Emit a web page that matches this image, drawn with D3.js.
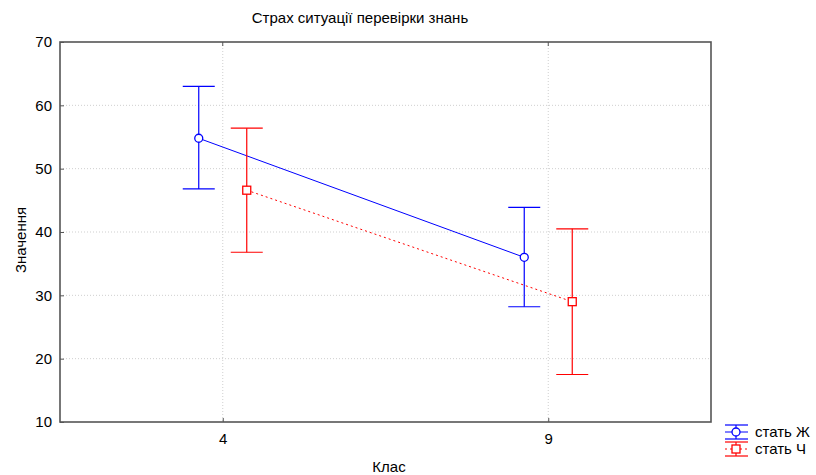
<!DOCTYPE html>
<html>
<head>
<meta charset="utf-8">
<script src="https://cdn.jsdelivr.net/npm/d3@7"></script>
<style>
  body { margin: 0; background: #fff; }
  svg { display: block; font-family: Arial, "Liberation Sans", sans-serif; }
</style>
</head>
<body>
<svg id="chart" width="816" height="475"></svg>
<script>
// Class levels and the y-axis ticks
const categories = ["4", "9"];
const yTicks = [10, 20, 30, 40, 50, 60, 70];

// Means and interval bounds per gender
const seriesNames = ["стать Ж", "стать Ч"];
const meanF = [54.8, 36.0];
const upperF = [63.0, 43.9];
const lowerF = [46.8, 28.2];
const meanM = [46.6, 29.0];
const upperM = [56.4, 40.5];
const lowerM = [36.8, 17.5];

const series = [
  { name: seriesNames[0], mean: meanF, upper: upperF, lower: lowerF, color: "#0000ff", offset: -24, marker: "circle", dash: null },
  { name: seriesNames[1], mean: meanM, upper: upperM, lower: lowerM, color: "#ff0000", offset: 24, marker: "square", dash: "2,3" }
];

const FONT = 15;
const svg = d3.select("#chart");
const m = { left: 60, right: 105, top: 42, bottom: 53 };
const W = 816, H = 475;

const x = d3.scalePoint().domain(categories).range([m.left, W - m.right]).padding(0.5);
const y = d3.scaleLinear().domain([10, 70]).range([H - m.bottom, m.top]);

// Grid
const grid = svg.append("g");
grid.selectAll("line.h").data(yTicks.slice(1, -1)).join("line")
  .attr("x1", m.left).attr("x2", W - m.right)
  .attr("y1", d => y(d)).attr("y2", d => y(d))
  .attr("stroke", "#cfcfcf").attr("stroke-dasharray", "1,2");
grid.selectAll("line.v").data(categories).join("line")
  .attr("x1", d => x(d)).attr("x2", d => x(d))
  .attr("y1", m.top).attr("y2", H - m.bottom)
  .attr("stroke", "#cfcfcf").attr("stroke-dasharray", "1,2");

// Axes
const yAxis = d3.axisLeft(y).tickValues(yTicks).tickSizeInner(-4).tickSizeOuter(0).tickPadding(8);
const gy = svg.append("g").attr("transform", `translate(${m.left},0)`).call(yAxis);
const xAxis = d3.axisBottom(x).tickSizeInner(-4).tickSizeOuter(0).tickPadding(11);
const gx = svg.append("g").attr("transform", `translate(0,${H - m.bottom})`).call(xAxis);
[gy, gx].forEach(g => {
  g.select(".domain").remove();
  g.selectAll(".tick line").attr("stroke", "#555");
  g.selectAll(".tick text").attr("font-size", FONT).attr("fill", "#000")
    .attr("font-family", "Arial, 'Liberation Sans', sans-serif");
});
// Top ticks
svg.append("g").selectAll("line").data(categories).join("line")
  .attr("x1", d => x(d)).attr("x2", d => x(d))
  .attr("y1", m.top).attr("y2", m.top + 4).attr("stroke", "#555");

// Frame
svg.append("rect")
  .attr("x", m.left).attr("y", m.top)
  .attr("width", W - m.right - m.left).attr("height", H - m.bottom - m.top)
  .attr("fill", "none").attr("stroke", "#555").attr("stroke-width", 1.6);

// Series
const capHalf = 16;
series.forEach(s => {
  const g = svg.append("g");
  const pts = categories.map((c, i) => ({ c, i, cx: x(c) + s.offset }));
  // connecting line
  g.append("path")
    .attr("d", d3.line().x(d => d.cx).y(d => y(s.mean[d.i]))(pts))
    .attr("fill", "none").attr("stroke", s.color).attr("stroke-width", 1)
    .attr("stroke-dasharray", s.dash);
  // whiskers
  pts.forEach(p => {
    g.append("line").attr("x1", p.cx).attr("x2", p.cx)
      .attr("y1", y(s.upper[p.i])).attr("y2", y(s.lower[p.i]))
      .attr("stroke", s.color).attr("stroke-width", 1.2);
    [s.upper[p.i], s.lower[p.i]].forEach(v => {
      g.append("line").attr("x1", p.cx - capHalf).attr("x2", p.cx + capHalf)
        .attr("y1", y(v)).attr("y2", y(v))
        .attr("stroke", s.color).attr("stroke-width", 1.2);
    });
    if (s.marker === "circle") {
      g.append("circle").attr("cx", p.cx).attr("cy", y(s.mean[p.i])).attr("r", 4)
        .attr("fill", "#fff").attr("stroke", s.color).attr("stroke-width", 1.3);
    } else {
      g.append("rect").attr("x", p.cx - 4).attr("y", y(s.mean[p.i]) - 4)
        .attr("width", 8).attr("height", 8)
        .attr("fill", "#fff").attr("stroke", s.color).attr("stroke-width", 1.3);
    }
  });
});

// Title and axis labels
svg.append("text").attr("x", 360).attr("y", 23).attr("text-anchor", "middle")
  .attr("font-size", FONT).text("Страх ситуації перевірки знань");
svg.append("text").attr("x", 389).attr("y", 472).attr("text-anchor", "middle")
  .attr("font-size", FONT).text("Клас");
svg.append("text").attr("transform", "translate(26,240) rotate(-90)")
  .attr("text-anchor", "middle").attr("font-size", FONT).text("Значення");

// Legend
const lg = svg.append("g").attr("transform", "translate(725,432)");
series.forEach((s, i) => {
  const row = lg.append("g").attr("transform", `translate(0,${i * 17})`);
  const cx = 11;
  row.append("line").attr("x1", 0).attr("x2", 23).attr("y1", -7).attr("y2", -7)
    .attr("stroke", s.color).attr("stroke-width", 1.2);
  row.append("line").attr("x1", 0).attr("x2", 23).attr("y1", 7).attr("y2", 7)
    .attr("stroke", s.color).attr("stroke-width", 1.2);
  row.append("line").attr("x1", cx).attr("x2", cx).attr("y1", -7).attr("y2", 7)
    .attr("stroke", s.color).attr("stroke-width", 1.2);
  row.append("line").attr("x1", 0).attr("x2", 23).attr("y1", 0).attr("y2", 0)
    .attr("stroke", s.color).attr("stroke-dasharray", s.dash);
  if (s.marker === "circle") {
    row.append("circle").attr("cx", cx).attr("cy", 0).attr("r", 4)
      .attr("fill", "#fff").attr("stroke", s.color).attr("stroke-width", 1.3);
  } else {
    row.append("rect").attr("x", cx - 4).attr("y", -4).attr("width", 8).attr("height", 8)
      .attr("fill", "#fff").attr("stroke", s.color).attr("stroke-width", 1.3);
  }
  row.append("text").attr("x", 30).attr("y", 5).attr("font-size", FONT).text(s.name);
});
</script>
</body>
</html>
